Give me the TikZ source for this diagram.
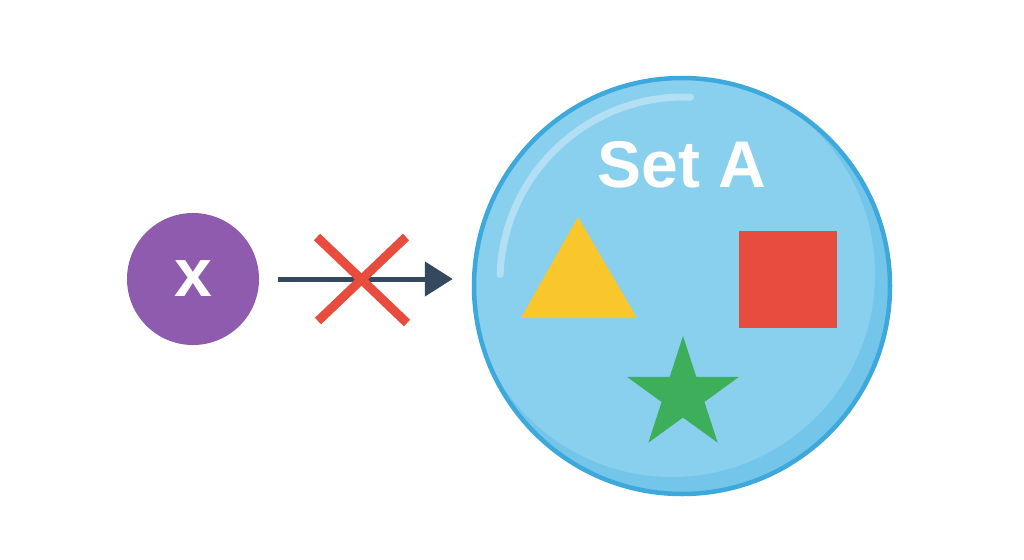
\documentclass[tikz,border=0pt]{standalone}
\usepackage{fontspec}
\setmainfont{Liberation Sans}
\usetikzlibrary{arrows.meta,shapes.geometric,calc}
\definecolor{setfill}{HTML}{89CFEE}
\definecolor{setdark}{HTML}{73C5EA}
\definecolor{setedge}{HTML}{3DA8DB}
\definecolor{elempurple}{HTML}{8E5BAE}
\definecolor{arrowgray}{HTML}{34495E}
\definecolor{crossred}{HTML}{E84C3D}
\definecolor{triyellow}{HTML}{F9C72C}
\definecolor{sqred}{HTML}{E84C3F}
\definecolor{stargreen}{HTML}{3DAE5A}
\tikzset{
  setcircle/.style={circle, minimum size=416pt, inner sep=0pt, line width=4.5pt, draw=setedge},
  elemnode/.style={circle, fill=elempurple, minimum size=132pt, inner sep=0pt, text=white, font=\bfseries\fontsize{68}{68}\selectfont},
  settitle/.style={text=white, font=\bfseries\fontsize{66}{66}\selectfont, inner sep=0pt},
  connector/.style={draw=arrowgray, line width=5pt, -{Triangle[length=28pt,width=34pt]}},
  crossline/.style={draw=crossred, line width=9pt},
}
\begin{document}
\begin{tikzpicture}[x=1pt,y=-1pt]
\useasboundingbox[fill=white] (0,0) rectangle (1024,559);
% big set circle with subtle shading
\fill[setdark] (682,286) circle (208);
\begin{scope}
  \clip (682,286) circle (208);
  \fill[setfill] (672,274) circle (203);
\end{scope}
\node[setcircle] (setA) at (682,286) {};
% highlight arc
\draw[white, opacity=0.35, line width=7pt, line cap=round]
  ({684+184*cos(178)},{281-184*sin(178)}) arc[start angle=-178, end angle=-88, radius=184];
\node[settitle, anchor=base] (title) at (682,187) {Set A};
% triangle
\fill[triyellow] (578,217) -- (637,318) -- (521,318) -- cycle;
% square
\fill[sqred] (739,231) rectangle (837,328);
% star
\node[star, star points=5, star point ratio=2.618, minimum size=118pt, inner sep=0pt, fill=stargreen] (star) at (683,395) {};
% element x
\node[elemnode] (elem) at (193,279) {x};
% arrow
\draw[connector, shorten <=19pt, shorten >=19pt] (elem.east) -- (elem.east -| setA.west);
% red cross
\coordinate (cross) at (362,280);
\draw[crossline] ($(cross)+(-45,-43)$) -- ($(cross)+(45,43)$);
\draw[crossline] ($(cross)+(44,-43)$) -- ($(cross)+(-44,41)$);
\end{tikzpicture}
\end{document}
